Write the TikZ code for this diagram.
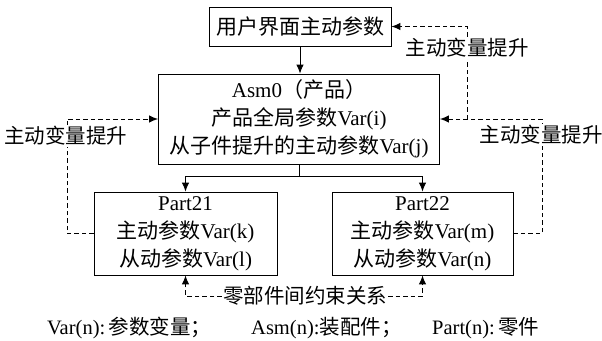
\documentclass[tikz,border=0pt]{standalone}
\usepackage{fontspec}
\setmainfont{Liberation Serif}
\newfontfamily\cjk{Noto Sans CJK SC}
\newcommand\zhs[1]{{\cjk #1}}
\usetikzlibrary{arrows.meta}
\begin{document}
\begin{tikzpicture}[x=1pt,y=-1pt,
  box/.style={draw,line width=0.9pt,inner sep=0pt,align=center,font=\fontsize{21}{28}\selectfont},
  lbl/.style={fill=white,inner sep=1pt,font=\fontsize{20.5}{24}\selectfont},
  leg/.style={anchor=west,inner sep=0pt,font=\fontsize{20.5}{22}\selectfont},
  arr/.style={line width=0.9pt,-{Latex[length=9pt,width=7.5pt]}},
  darr/.style={arr,line width=1pt,dash pattern=on 4.5pt off 3pt},
  sln/.style={line width=0.9pt}]
\useasboundingbox (0,0) rectangle (602,340);
\node[box,minimum width=182pt,minimum height=39pt] (top) at (300,26.5) {\zhs{用户界面主动参数}};
\node[box,minimum width=281pt,minimum height=90pt] (asm) at (299,119) {Asm0\zhs{（产品）}\\ \zhs{产品全局参数}Var(i)\\ \zhs{从子件提升的主动参数}Var(j)};
\node[box,minimum width=183pt,minimum height=83pt] (p21) at (185.5,233.5) {Part21\\ \zhs{主动参数}Var(k)\\ \zhs{从动参数}Var(l)};
\node[box,minimum width=181pt,minimum height=83pt] (p22) at (422.5,233.5) {Part22\\ \zhs{主动参数}Var(m)\\ \zhs{从动参数}Var(n)};
% solid connectors
\draw[arr] (top) -- (top |- asm.north);
\coordinate (j) at (299,176);
\draw[sln] (asm.south) -- (j);
\draw[arr] (j) -| (p21.north);
\draw[arr] (j) -| (p22.north);
% dashed promotions
\coordinate (rc) at (542,119);
\coordinate (tc) at (467,119);
\coordinate (lc) at (67,119);
\draw[darr] (p22.east) -| (rc) -- (asm.east);
\draw[darr] (tc) |- (top.east);
\draw[darr] (p21.west) -| (lc) -- (asm.west);
\node[lbl] (lr) at (541,135) {\zhs{主动变量提升}};
\node[lbl] (lt) at (467,48) {\zhs{主动变量提升}};
\node[lbl] (ll) at (66,136) {\zhs{主动变量提升}};
% constraints
\node[lbl] (c) at (305,296) {\zhs{零部件间约束关系}};
\draw[darr] (c.west) -| (p21.south);
\draw[darr] (c.east) -| (p22.south);
% legend
\node[leg] (g1) at (47,328) {Var(n):\,\zhs{参数变量；}};
\node[leg] (g2) at (251,328) {Asm(n):\zhs{装配件；}};
\node[leg] (g3) at (432,328) {Part(n):\,\zhs{零件}};
\end{tikzpicture}
\end{document}
